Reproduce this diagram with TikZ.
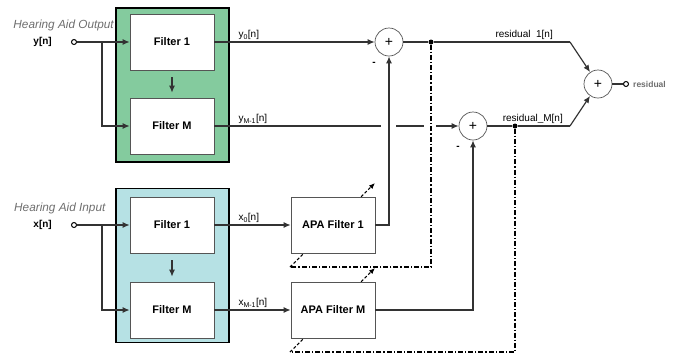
\documentclass[tikz,border=0pt]{standalone}
\usepackage{fontspec}
\setmainfont{Liberation Sans}
\usetikzlibrary{arrows.meta,positioning,calc}
\definecolor{BankGreen}{HTML}{84CB9E}
\definecolor{BankBlue}{HTML}{B6E1E4}
\definecolor{NoteGray}{HTML}{6E6E6E}
\definecolor{EdgeGray}{HTML}{555555}

\begin{document}
\begin{tikzpicture}[x=1pt, y=-1pt,
    bank/.style={draw=black, line width=1.5pt, minimum width=113pt, minimum height=154pt},
    filt/.style={draw=EdgeGray, line width=0.7pt, fill=white, minimum width=84pt, minimum height=56pt,
      font=\fontsize{11}{12}\selectfont\bfseries},
    sumnode/.style={circle, draw=EdgeGray, line width=0.7pt, fill=white, minimum size=28pt, inner sep=0pt,
      font=\fontsize{14}{14}\selectfont},
    port/.style={circle, draw, line width=1pt, fill=white, inner sep=0pt, minimum size=5pt},
    tapdot/.style={circle, fill, inner sep=0pt, minimum size=5pt},
    sig/.style={line width=1.2pt, draw=black!80},
    arrow/.style={-{Latex[length=7pt,width=6pt]}, line width=1.2pt, draw=black!80},
    fb/.style={line width=1.1pt, dash pattern=on 5pt off 2pt on 1.2pt off 2pt},
    adapt/.style={-{Latex[length=6pt,width=5pt]}, line width=1.1pt, dash pattern=on 3pt off 2pt},
    siglbl/.style={font=\fontsize{10}{12}\selectfont, inner sep=1pt},
    note/.style={font=\fontsize{11.8}{13}\selectfont\itshape\color{NoteGray}, inner sep=0pt}
  ]
    \useasboundingbox (0,0) rectangle (682,354);

    % filter banks
    \node[bank, fill=BankGreen] (outbank) at (172.5,85) {};
    \node[bank, fill=BankBlue] (inbank) at (172.5,265.5) {};
    \node[filt] (yf1) at (172,42) {Filter 1};
    \node[filt] (yfm) at (172,126) {Filter M};
    \node[filt] (xf1) at (172,225) {Filter 1};
    \node[filt] (xfm) at (172,310) {Filter M};

    % adaptive arrows (behind the APA boxes)
    \coordinate (fb1) at (290,267);
    \coordinate (fbm) at (290,352);
    \coordinate (tip1) at (375,183);
    \coordinate (tipm) at (375,268);
    \draw[adapt] (fb1) -- (tip1);
    \draw[adapt] (fbm) -- (tipm);

    \node[filt] (apa1) at (333,225) {APA Filter 1};
    \node[filt] (apam) at (333,310) {APA Filter M};

    \node[sumnode] (sum1) at (389,42) {+};
    \node[sumnode] (summ) at (473,126) {+};
    \node[sumnode] (sumout) at (598,84) {+};

    \node[port] (yin) at (74,42) {};
    \node[port] (xin) at (74,225) {};
    \node[port] (resout) at (626,84) {};
    \node[tapdot] (tap1) at (431,42) {};
    \node[tapdot] (tapm) at (515,126) {};
    \coordinate (yfork) at (102,42);
    \coordinate (xfork) at (102,225);
    \coordinate (kink1) at (570,42);
    \coordinate (kinkm) at (570,126);

    % inputs
    \draw[arrow] (yin) -- (yf1);
    \draw[arrow] (yfork) |- (yfm);
    \draw[arrow] (xin) -- (xf1);
    \draw[arrow] (xfork) |- (xfm);
    \draw[arrow, shorten <=7pt, shorten >=5pt] (yf1) -- (yfm);
    \draw[arrow, shorten <=7pt, shorten >=5pt] (xf1) -- (xfm);

    % subband signals
    \draw[arrow] (yf1) -- (sum1);
    \draw[arrow] (yfm) -- (summ);
    \fill[white] ($(sum1 |- yfm)+(-8,-3)$) rectangle +(15,6);
    \fill[white] ($(tap1 |- yfm)+(-7,-3)$) rectangle +(12,6);
    \draw[arrow] (xf1) -- (apa1);
    \draw[arrow] (xfm) -- (apam);
    \draw[arrow] (apa1) -| (sum1);
    \draw[arrow] (apam) -| (summ);

    % residuals
    \draw[sig] (sum1) -- (tap1) -- (kink1);
    \draw[arrow] (kink1) -- (sumout);
    \draw[sig] (summ) -- (tapm) -- (kinkm);
    \draw[arrow] (kinkm) -- (sumout);
    \draw[sig] (sumout) -- (resout);

    % error feedback
    \draw[fb] (tap1) |- (fb1);
    \draw[fb] (tapm) |- (fbm);

    % labels
    \node[note, anchor=east] at (114,25) {Hearing Aid Output};
    \node[note, anchor=west] at (14,208) {Hearing Aid Input};
    \node[siglbl, font=\fontsize{10}{12}\selectfont\bfseries, left=18pt of yin] {y[n]};
    \node[siglbl, font=\fontsize{10}{12}\selectfont\bfseries, left=18pt of xin] {x[n]};
    \node[siglbl, above right=1pt and 23pt of yf1.east] {y\textsubscript{0}[n]};
    \node[siglbl, above right=1pt and 23pt of yfm.east] {y\textsubscript{M-1}[n]};
    \node[siglbl, above right=1pt and 23pt of xf1.east] {x\textsubscript{0}[n]};
    \node[siglbl, above right=1pt and 23pt of xfm.east] {x\textsubscript{M-1}[n]};
    \node[siglbl, above left=1pt and 16pt of kink1] {residual\ \ 1[n]};
    \node[siglbl, above left=1pt and 6pt of kinkm] {residual\_M[n]};
    \node[siglbl, right=3pt of resout, font=\fontsize{8.5}{10}\selectfont\bfseries, text=NoteGray] {residual};
    \node[font=\bfseries] (minus1) at ($(sum1)+(-15,22)$) {-};
    \node[font=\bfseries] (minusm) at ($(summ)+(-15,22)$) {-};
  \end{tikzpicture}
\end{document}
